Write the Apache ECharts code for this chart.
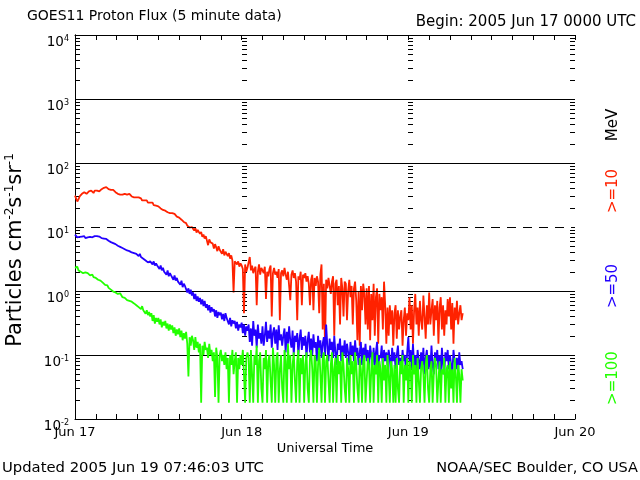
<!DOCTYPE html>
<html><head><meta charset="utf-8">
<script src="https://cdn.jsdelivr.net/npm/echarts/dist/echarts.min.js"></script>
<style>html,body{margin:0;padding:0;background:#fff}#c{width:640px;height:480px}</style>
</head><body><div id="c"></div>
<script>
// Sampling step of the transcribed series (hours since 2005 Jun 17 00:00 UTC)
const stepHours = 1 / 6;
const dayLabels = ['Jun 17', 'Jun 18', 'Jun 19', 'Jun 20'];
const decadeLines = [0.1, 1, 100, 1000];
const thresholdLines = [10];

// >=10 MeV (pfu), one row per hour
const p10 = [
  31, 29, 25, 27, 30, 32,
  33, 32, 35, 34, 33, 35,
  36, 35, 37, 36, 34, 37,
  38, 37, 39, 36, 38, 39,
  40, 41, 39, 42, 40, 39,
  39, 38, 37, 38, 36, 35,
  34, 33, 35, 32, 33, 32,
  32, 33, 31, 32, 30, 33,
  31, 30, 31, 29, 30, 29,
  28, 29, 27, 28, 26, 27,
  26, 25, 26, 24, 25, 24,
  23, 24, 22, 22.5, 21.5, 22,
  21, 20, 19.5, 20, 18.5, 19,
  18, 18.5, 17, 17.5, 16.5, 17,
  16.5, 15.5, 16, 15, 14.5, 15,
  14, 13.5, 13, 12.5, 12, 12.5,
  11.5, 10.5, 11, 9.8, 10.2, 10,
  9.5, 8.8, 9.6, 8.2, 9.0, 8.4,
  7.8, 8.4, 7.0, 7.6, 6.6, 7.2,
  6.8, 5.2, 6.4, 5.8, 6.2, 5.5,
  4.6, 5.4, 4.8, 4.2, 5.0, 4.4,
  4.3, 3.8, 4.5, 3.6, 4.1, 3.9,
  3.5, 3.9, 3.2, 3.6, 3.0, 0.95,
  2.9, 3.1, 2.6, 2.9, 2.4, 2.7,
  2.5, 2.2, 0.45, 2.6, 2.0, 2.3,
  2.3, 3.4, 2.1, 2.5, 1.9, 2.2,
  2.4, 0.6, 2.0, 2.6, 1.8, 2.3,
  2.1, 1.9, 2.4, 0.75, 2.0, 1.7,
  2.2, 2.5, 0.4, 1.9, 2.3, 1.8,
  2.0, 1.6, 2.2, 0.35, 1.9, 2.1,
  1.7, 2.3, 1.8, 1.5, 2.0, 1.9,
  0.72, 1.8, 2.1, 1.6, 1.9, 1.4,
  0.35, 1.7, 1.5, 2.0, 0.6, 1.8,
  1.6, 1.9, 1.4, 1.7, 1.3, 0.6,
  1.5, 1.8, 0.5, 1.6, 1.2, 1.7,
  1.4, 0.45, 1.8, 2.6, 0.25, 1.3,
  0.14, 1.5, 1.1, 1.6, 1.2, 0.9,
  1.4, 1.7, 0.2, 1.3, 1.5, 0.6,
  1.2, 0.3, 1.6, 1.1, 0.4, 1.4,
  1.3, 0.35, 1.0, 1.5, 0.8, 1.2,
  0.3, 1.1, 1.4, 0.7, 0.17, 1.0,
  0.14, 1.2, 0.5, 1.3, 0.9, 0.3,
  1.1, 0.25, 1.2, 0.17, 0.9, 0.35,
  1.3, 0.2, 0.8, 1.1, 0.15, 0.9,
  0.5, 0.8, 0.25, 1.4, 0.6, 0.15,
  0.55, 0.2, 0.6, 0.3, 0.5, 0.14,
  0.45, 0.6, 0.18, 0.5, 0.25, 0.4,
  0.5, 0.14, 0.35, 0.55, 0.2, 0.45,
  0.35, 0.8, 0.25, 0.6, 0.15, 0.5,
  0.9, 0.3, 0.55, 0.2, 0.7, 0.35,
  0.25, 0.85, 0.4, 0.18, 0.6, 0.3,
  0.95, 0.3, 0.5, 0.75, 0.2, 0.6,
  0.35, 0.7, 0.15, 0.55, 0.8, 0.25,
  0.6, 0.2, 0.5, 0.3, 0.75, 0.4,
  0.8, 0.25, 0.65, 0.15, 0.55, 0.35,
  0.7, 0.3, 0.45, 0.6, 0.35, 0.45
];
// >=50 MeV (pfu), one row per hour
const p50 = [
  7.6, 7.2, 6.9, 7.3, 7.0, 7.4,
  7.1, 6.8, 7.2, 6.7, 7.0, 6.9,
  7.2, 7.0, 7.3, 6.9, 7.1, 7.2,
  7.0, 7.2, 6.8, 7.1, 6.9, 6.7,
  6.8, 6.6, 6.4, 6.5, 6.3, 6.1,
  6.0, 5.8, 5.9, 5.6, 5.7, 5.4,
  5.3, 5.1, 5.2, 4.9, 5.0, 4.7,
  4.6, 4.5, 4.7, 4.3, 4.4, 4.2,
  4.3, 4.0, 4.2, 3.9, 4.1, 3.8,
  3.7, 3.5, 3.8, 3.4, 3.5, 3.2,
  3.1, 3.0, 3.2, 2.8, 2.9, 2.9,
  2.8, 2.6, 2.9, 2.5, 2.7, 2.5,
  2.4, 2.2, 2.5, 2.1, 2.3, 2.0,
  2.0, 1.8, 2.1, 1.7, 1.9, 1.75,
  1.7, 1.5, 1.75, 1.45, 1.6, 1.4,
  1.4, 1.25, 1.45, 1.15, 1.3, 1.2,
  1.15, 0.95, 1.1, 0.9, 1.05, 0.85,
  0.95, 0.75, 0.9, 0.7, 0.82, 0.68,
  0.78, 0.62, 0.74, 0.58, 0.7, 0.55,
  0.62, 0.5, 0.6, 0.46, 0.56, 0.48,
  0.52, 0.4, 0.5, 0.38, 0.47, 0.42,
  0.46, 0.36, 0.44, 0.34, 0.45, 0.38,
  0.4, 0.3, 0.38, 0.28, 0.35, 0.31,
  0.34, 0.26, 0.33, 0.24, 0.3, 0.27,
  0.32, 0.22, 0.3, 0.2, 0.28, 0.24,
  0.3, 0.16, 0.26, 0.14, 0.34, 0.2,
  0.25, 0.13, 0.3, 0.18, 0.22, 0.15,
  0.28, 0.14, 0.2, 0.33, 0.16, 0.24,
  0.18, 0.3, 0.13, 0.22, 0.27, 0.15,
  0.25, 0.12, 0.29, 0.17, 0.21, 0.14,
  0.2, 0.26, 0.11, 0.23, 0.15, 0.28,
  0.17, 0.13, 0.24, 0.1, 0.2, 0.16,
  0.22, 0.1, 0.18, 0.25, 0.12, 0.19,
  0.14, 0.2, 0.09, 0.17, 0.23, 0.11,
  0.18, 0.1, 0.21, 0.13, 0.16, 0.08,
  0.2, 0.12, 0.17, 0.09, 0.15, 0.19,
  0.1, 0.3, 0.14, 0.08, 0.18, 0.12,
  0.16, 0.09, 0.2, 0.11, 0.07, 0.15,
  0.12, 0.18, 0.08, 0.14, 0.1, 0.17,
  0.09, 0.15, 0.11, 0.07, 0.16, 0.1,
  0.14, 0.08, 0.17, 0.1, 0.13, 0.07,
  0.11, 0.16, 0.07, 0.13, 0.09, 0.15,
  0.08, 0.12, 0.06, 0.14, 0.1, 0.07,
  0.13, 0.07, 0.11, 0.16, 0.06, 0.1,
  0.09, 0.14, 0.06, 0.12, 0.08, 0.11,
  0.07, 0.12, 0.09, 0.05, 0.13, 0.08,
  0.11, 0.06, 0.1, 0.14, 0.07, 0.09,
  0.06, 0.12, 0.08, 0.1, 0.05, 0.11,
  0.19, 0.08, 0.12, 0.06, 0.15, 0.07,
  0.1, 0.05, 0.12, 0.08, 0.06, 0.11,
  0.07, 0.13, 0.05, 0.09, 0.12, 0.06,
  0.1, 0.06, 0.14, 0.07, 0.05, 0.11,
  0.08, 0.12, 0.06, 0.1, 0.05, 0.13,
  0.07, 0.05, 0.11, 0.08, 0.12, 0.06,
  0.1, 0.07, 0.05, 0.12, 0.08, 0.06,
  0.09, 0.05, 0.11, 0.07, 0.08, 0.06
];
// >=100 MeV (pfu), one row per hour
const p100 = [
  2.3, 2.2, 2.4, 2.1, 2.2, 2.0,
  2.1, 1.9, 2.0, 1.95, 1.85, 1.9,
  1.8, 1.75, 1.7, 1.8, 1.65, 1.7,
  1.6, 1.65, 1.5, 1.55, 1.45, 1.4,
  1.35, 1.3, 1.25, 1.2, 1.22, 1.12,
  1.1, 1.05, 1.0, 0.98, 1.02, 0.95,
  0.96, 0.9, 0.85, 0.92, 0.86, 0.8,
  0.82, 0.78, 0.8, 0.72, 0.75, 0.7,
  0.74, 0.68, 0.7, 0.64, 0.66, 0.6,
  0.62, 0.56, 0.6, 0.52, 0.58, 0.5,
  0.52, 0.44, 0.5, 0.42, 0.47, 0.4,
  0.45, 0.34, 0.42, 0.31, 0.38, 0.33,
  0.38, 0.3, 0.36, 0.27, 0.33, 0.29,
  0.34, 0.26, 0.31, 0.24, 0.3, 0.25,
  0.29, 0.22, 0.27, 0.2, 0.25, 0.21,
  0.26, 0.19, 0.24, 0.17, 0.22, 0.18,
  0.23, 0.15, 0.046, 0.19, 0.14, 0.2,
  0.17, 0.12, 0.19, 0.13, 0.16, 0.11,
  0.15, 0.018, 0.14, 0.1, 0.16, 0.12,
  0.13, 0.09, 0.15, 0.1, 0.12, 0.08,
  0.11, 0.022, 0.13, 0.09, 0.018, 0.1,
  0.12, 0.08, 0.1, 0.07, 0.11, 0.06,
  0.09, 0.018, 0.1, 0.07, 0.12, 0.05,
  0.08, 0.11, 0.018, 0.09, 0.06, 0.1,
  0.07, 0.12, 0.05, 0.018, 0.09, 0.11,
  0.09, 0.018, 0.12, 0.05, 0.018, 0.1,
  0.07, 0.14, 0.018, 0.08, 0.11, 0.03,
  0.018, 0.09, 0.06, 0.12, 0.018, 0.08,
  0.1, 0.04, 0.018, 0.13, 0.07, 0.018,
  0.09, 0.11, 0.018, 0.06, 0.1, 0.03,
  0.018, 0.12, 0.08, 0.018, 0.15, 0.06,
  0.1, 0.018, 0.07, 0.11, 0.04, 0.018,
  0.08, 0.12, 0.018, 0.09, 0.05, 0.1,
  0.018, 0.07, 0.11, 0.03, 0.018, 0.09,
  0.12, 0.06, 0.018, 0.1, 0.08, 0.018,
  0.07, 0.13, 0.05, 0.018, 0.09, 0.11,
  0.018, 0.08, 0.1, 0.04, 0.018, 0.07,
  0.11, 0.018, 0.06, 0.09, 0.018, 0.1,
  0.05, 0.08, 0.018, 0.11, 0.07, 0.03,
  0.018, 0.09, 0.06, 0.018, 0.1, 0.05,
  0.08, 0.018, 0.11, 0.07, 0.03, 0.018,
  0.09, 0.06, 0.018, 0.08, 0.1, 0.018,
  0.04, 0.09, 0.07, 0.018, 0.06, 0.11,
  0.018, 0.07, 0.05, 0.1, 0.018, 0.08,
  0.06, 0.018, 0.09, 0.04, 0.07, 0.018,
  0.1, 0.05, 0.018, 0.08, 0.06, 0.018,
  0.07, 0.018, 0.09, 0.03, 0.018, 0.08,
  0.05, 0.1, 0.018, 0.07, 0.04, 0.09,
  0.018, 0.08, 0.06, 0.018, 0.1, 0.05,
  0.07, 0.018, 0.09, 0.04, 0.018, 0.06,
  0.08, 0.05, 0.018, 0.07, 0.1, 0.03,
  0.018, 0.06, 0.08, 0.018, 0.05, 0.09,
  0.07, 0.018, 0.04, 0.08, 0.018, 0.06,
  0.05, 0.09, 0.018, 0.06, 0.07, 0.018,
  0.08, 0.03, 0.06, 0.018, 0.09, 0.05,
  0.018, 0.07, 0.05, 0.018, 0.06, 0.04
];

const FONT = 'DejaVu Sans';
const RED = '#ff2200', BLUE = '#2200ff', GREEN = '#22ff00';

// log minor tick values 2..9 x 10^k between 1e-2 and 1e4
const minorTicks = [];
for (let k = -2; k < 4; k++) for (let m = 2; m <= 9; m++) minorTicks.push(m * Math.pow(10, k));

const toPairs = arr => arr.map((v, i) => [i * stepHours, v]);

const chart = echarts.init(document.getElementById('c'), null, { renderer: 'canvas' });

const axisLineStyle = { color: '#000', width: 1 };
const xAxisBase = {
  type: 'value', min: 0, max: 72, interval: 3,
  axisLine: { show: true, lineStyle: axisLineStyle },
  axisTick: { show: true, inside: true, length: 5, lineStyle: axisLineStyle },
  splitLine: { show: false }
};

function supLabel(v) {
  const e = Math.round(Math.log10(v));
  return '{b|10}{e|' + e + '}';
}

const option = {
  animation: false,
  backgroundColor: '#fff',
  textStyle: { fontFamily: FONT },
  grid: { left: 75, right: 65, top: 35, bottom: 61, containLabel: false },
  xAxis: [
    Object.assign({}, xAxisBase, {
      position: 'bottom',
      axisLabel: {
        color: '#000', fontSize: 13, fontFamily: FONT, margin: 7,
        formatter: v => (v % 24 === 0 ? dayLabels[v / 24] : '')
      }
    }),
    Object.assign({}, xAxisBase, { position: 'top', axisLabel: { show: false } })
  ],
  yAxis: [
    {
      type: 'log', logBase: 10, min: 0.01, max: 10000, position: 'left',
      axisLine: { show: true, lineStyle: axisLineStyle },
      axisTick: { show: false },
      splitLine: { show: false },
      axisLabel: {
        margin: 6, padding: [15, 0, 0, 0],
        formatter: supLabel,
        rich: {
          b: { fontSize: 13.5, color: '#000', fontFamily: FONT, lineHeight: 16 },
          e: { fontSize: 8, color: '#000', fontFamily: FONT, verticalAlign: 'top', lineHeight: 16 }
        }
      }
    },
    {
      type: 'log', logBase: 10, min: 0.01, max: 10000, position: 'right',
      axisLine: { show: true, lineStyle: axisLineStyle },
      axisTick: { show: false }, splitLine: { show: false }, axisLabel: { show: false }
    }
  ],
  graphic: [
    { type: 'text', left: 27, top: 9, style: { text: 'GOES11 Proton Flux (5 minute data)', fontSize: 14, fontFamily: FONT, fill: '#000' } },
    { type: 'text', right: 4, top: 15, style: { text: 'Begin: 2005 Jun 17 0000 UTC', fontSize: 15, fontFamily: FONT, fill: '#000' } },
    { type: 'text', x: 325, y: 449, style: { text: 'Universal Time', fontSize: 13, fontFamily: FONT, fill: '#000', align: 'center', verticalAlign: 'middle' } },
    { type: 'text', x: 2, y: 468, style: { text: 'Updated 2005 Jun 19 07:46:03 UTC', fontSize: 14.8, fontFamily: FONT, fill: '#000', align: 'left', verticalAlign: 'middle' } },
    { type: 'text', x: 638, y: 468, style: { text: 'NOAA/SEC Boulder, CO USA', fontSize: 14.5, fontFamily: FONT, fill: '#000', align: 'right', verticalAlign: 'middle' } },
    { type: 'text', x: 16, y: 250, rotation: Math.PI / 2,
      style: { text: 'Particles cm{s|-2}s{s|-1}sr{s|-1}', fontSize: 21, fontFamily: FONT, fill: '#000', align: 'center', verticalAlign: 'middle',
        rich: { s: { fontSize: 12, fontFamily: FONT, fill: '#000', verticalAlign: 'top', lineHeight: 24 } } } },
    { type: 'text', x: 613, y: 125, rotation: Math.PI / 2, style: { text: 'MeV', fontSize: 15, fontFamily: FONT, fill: '#000', align: 'center', verticalAlign: 'middle' } },
    { type: 'text', x: 613, y: 191, rotation: Math.PI / 2, style: { text: '>=10', fontSize: 15, fontFamily: FONT, fill: RED, align: 'center', verticalAlign: 'middle' } },
    { type: 'text', x: 613, y: 286, rotation: Math.PI / 2, style: { text: '>=50', fontSize: 15, fontFamily: FONT, fill: BLUE, align: 'center', verticalAlign: 'middle' } },
    { type: 'text', x: 613, y: 378, rotation: Math.PI / 2, style: { text: '>=100', fontSize: 15, fontFamily: FONT, fill: GREEN, align: 'center', verticalAlign: 'middle' } }
  ],
  series: [
    {
      name: 'grid', type: 'line', data: [], silent: true,
      markLine: {
        silent: true, symbol: 'none', label: { show: false }, animation: false,
        data: decadeLines.map(v => ({ yAxis: v, lineStyle: { color: '#000', width: 1, type: 'solid' } }))
          .concat(thresholdLines.map(v => ({ yAxis: v, lineStyle: { color: '#000', width: 1, type: [9, 7] } })))
      }
    },
    {
      name: 'minor ticks', type: 'custom', silent: true, z: 3,
      data: minorTicks.map(v => [0, v]),
      encode: { x: 0, y: 1 },
      renderItem: function (params, api) {
        const v = api.value(1);
        const children = [];
        [0, 24, 48].forEach(d => {
          const p = api.coord([d, v]);
          const y = Math.round(p[1]) + 0.5, x = Math.round(p[0]);
          children.push({ type: 'line', shape: { x1: x, y1: y, x2: x + 5, y2: y }, style: { stroke: '#000', lineWidth: 1 } });
        });
        const q = api.coord([72, v]);
        const yq = Math.round(q[1]) + 0.5, xq = Math.round(q[0]);
        children.push({ type: 'line', shape: { x1: xq - 5, y1: yq, x2: xq, y2: yq }, style: { stroke: '#000', lineWidth: 1 } });
        return { type: 'group', children };
      }
    },
    { name: '>=10 MeV', type: 'line', data: toPairs(p10), showSymbol: false, lineStyle: { color: RED, width: 1.8 }, itemStyle: { color: RED }, z: 4 },
    { name: '>=50 MeV', type: 'line', data: toPairs(p50), showSymbol: false, lineStyle: { color: BLUE, width: 1.8 }, itemStyle: { color: BLUE }, z: 5 },
    { name: '>=100 MeV', type: 'line', data: toPairs(p100), showSymbol: false, lineStyle: { color: GREEN, width: 1.8 }, itemStyle: { color: GREEN }, z: 6 }
  ]
};
chart.setOption(option);
</script>
</body></html>
